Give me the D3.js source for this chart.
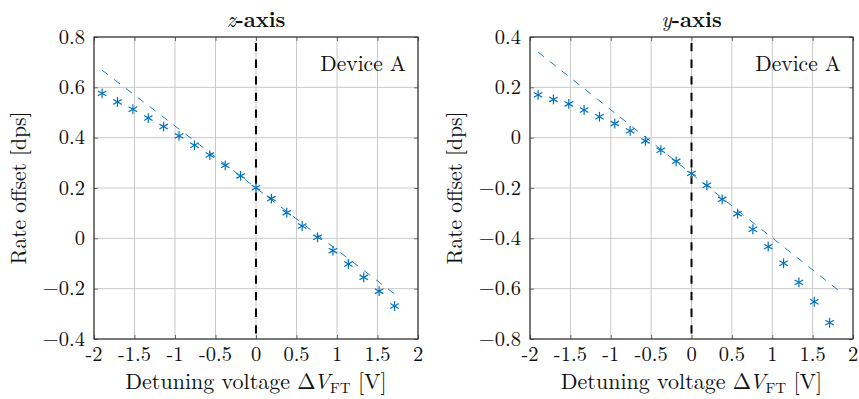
<!DOCTYPE html>
<html>
<head>
<meta charset="utf-8">
<script src="https://cdn.jsdelivr.net/npm/d3@7"></script>
<style>
  html, body { margin: 0; padding: 0; background: #fff; }
  svg { display: block; }
</style>
</head>
<body>
<svg id="chart" width="859" height="399"></svg>
<script>
// Detuning voltage samples shared by both panels [V]
const detuning = [-1.90, -1.71, -1.52, -1.33, -1.14, -0.95, -0.76, -0.57, -0.38, -0.19,
                  0.00, 0.19, 0.38, 0.57, 0.76, 0.95, 1.14, 1.33, 1.52, 1.71];

// Measured rate offsets [dps]
const zOffset = [0.576, 0.542, 0.513, 0.478, 0.444, 0.407, 0.370, 0.331, 0.290, 0.248,
                 0.201, 0.158, 0.102, 0.049, 0.004, -0.049, -0.102, -0.155, -0.210, -0.269];
const yOffset = [0.170, 0.152, 0.134, 0.110, 0.083, 0.056, 0.027, -0.013, -0.050, -0.094,
                 -0.142, -0.189, -0.245, -0.302, -0.364, -0.433, -0.499, -0.575, -0.652, -0.735];

// Linear fits (end points) [V, dps]
const zFitX = [-1.90, 1.71];
const zFitY = [0.668, -0.221];
const yFitX = [-1.90, 1.88];
const yFitY = [0.340, -0.622];

// Axis ticks
const xTicks = [-2, -1.5, -1, -0.5, 0, 0.5, 1, 1.5, 2];
const zTicks = [-0.4, -0.2, 0, 0.2, 0.4, 0.6, 0.8];
const yTicks = [-0.8, -0.6, -0.4, -0.2, 0, 0.2, 0.4];

const blue = "#0072BD";
const FONT = "'Latin Modern Roman', serif";
const FS = 21.5;      // labels
const TS = 20.5;      // tick labels
const svg = d3.select("#chart");

function fmtX(v) { return String(v); }                       // hyphen style
function fmtY(v) { return v < 0 ? "\u2212" + String(-v) : String(v); }

// text helper with the document font applied directly
function txt(sel, size) {
  return sel.append("text").style("font-family", FONT).style("font-size", size + "px").attr("fill", "#111");
}

function panel(opt) {
  const x = d3.scaleLinear().domain([-2, 2]).range([opt.left, opt.right]);
  const y = d3.scaleLinear().domain(opt.yDomain).range([339, 37]);
  const g = svg.append("g");

  // grid
  g.append("g").selectAll("line").data(xTicks).join("line")
    .attr("x1", d => x(d)).attr("x2", d => x(d)).attr("y1", 37).attr("y2", 339)
    .attr("stroke", "#c9c9c9").attr("stroke-width", 1);
  g.append("g").selectAll("line").data(opt.yTicks).join("line")
    .attr("x1", opt.left).attr("x2", opt.right).attr("y1", d => y(d)).attr("y2", d => y(d))
    .attr("stroke", "#c9c9c9").attr("stroke-width", 1);

  // axes with inward ticks
  const xb = d3.axisBottom(x).tickValues(xTicks).tickSize(-4).tickFormat("");
  const xt = d3.axisTop(x).tickValues(xTicks).tickSize(-4).tickFormat("");
  const yl = d3.axisLeft(y).tickValues(opt.yTicks).tickSize(-4).tickFormat("");
  const yr = d3.axisRight(y).tickValues(opt.yTicks).tickSize(-4).tickFormat("");
  [[xb, `translate(0,339)`], [xt, `translate(0,37)`], [yl, `translate(${opt.left},0)`], [yr, `translate(${opt.right},0)`]]
    .forEach(([ax, tr]) => {
      const a = g.append("g").attr("transform", tr).call(ax);
      a.select(".domain").remove();
      a.selectAll(".tick line").attr("stroke", "#6e6e6e").attr("stroke-width", 1);
    });

  // tick labels
  const xl0 = g.append("g");
  xTicks.forEach(d => {
    txt(xl0, TS).attr("x", x(d)).attr("y", 361).attr("text-anchor", "middle").text(fmtX(d));
  });
  const yl0 = g.append("g");
  opt.yTicks.forEach(d => {
    txt(yl0, TS).attr("x", opt.left - 9).attr("y", y(d) + 6.8).attr("text-anchor", "end").text(fmtY(d));
  });

  // vertical dashed line at zero detuning
  g.append("line").attr("x1", x(0)).attr("x2", x(0)).attr("y1", 37).attr("y2", 339)
    .attr("stroke", "#000").attr("stroke-width", 2).attr("stroke-dasharray", "8.3,8.3")
    .attr("stroke-dashoffset", -6);

  // fit line
  const fit = opt.fitX.map((v, i) => [v, opt.fitY[i]]);
  g.append("path").datum(fit)
    .attr("d", d3.line().x(d => x(d[0])).y(d => y(d[1])))
    .attr("fill", "none").attr("stroke", blue).attr("stroke-width", 0.9)
    .attr("stroke-dasharray", "7.5,7.5");

  // asterisk markers
  const r = 4.9;
  const arms = [90, 30, 150].map(a => [Math.cos(a * Math.PI / 180) * r, Math.sin(a * Math.PI / 180) * r]);
  const pts = detuning.map((v, i) => [v, opt.values[i]]);
  const m = g.append("g").selectAll("g").data(pts).join("g")
    .attr("transform", d => `translate(${x(d[0])},${y(d[1])})`);
  arms.forEach(([dx, dy]) => {
    m.append("line").attr("x1", -dx).attr("y1", -dy).attr("x2", dx).attr("y2", dy)
      .attr("stroke", blue).attr("stroke-width", 1.2);
  });

  // frame
  g.append("rect").attr("x", opt.left).attr("y", 37)
    .attr("width", opt.right - opt.left).attr("height", 302)
    .attr("fill", "none").attr("stroke", "#222").attr("stroke-width", 1.1);

  // annotation
  txt(g, FS).attr("x", opt.right - 12).attr("y", 71).attr("text-anchor", "end").text("Device A");

  // title
  const cx = (opt.left + opt.right) / 2;
  const t = txt(g, FS).attr("x", cx).attr("y", 27).attr("text-anchor", "middle");
  t.append("tspan").style("font-style", "italic").text(opt.axisName);
  t.append("tspan").style("font-weight", "bold").text("-axis");

  // x label
  const xl = txt(g, 22).attr("x", cx).attr("y", 389).attr("text-anchor", "middle");
  xl.append("tspan").text("Detuning voltage \u0394");
  xl.append("tspan").style("font-style", "italic").attr("dx", -2).text("V");
  xl.append("tspan").style("font-size", "15px").attr("dy", 3.5).text("FT");
  xl.append("tspan").attr("dy", -3.5).text(" [V]");

  // y label
  txt(g, FS).attr("transform", `translate(${opt.left - 68},188) rotate(-90)`)
    .attr("text-anchor", "middle").text("Rate offset [dps]");
}

panel({ left: 94, right: 418, yDomain: [-0.4, 0.8], yTicks: zTicks, values: zOffset,
        fitX: zFitX, fitY: zFitY, axisName: "z" });
panel({ left: 530, right: 853, yDomain: [-0.8, 0.4], yTicks: yTicks, values: yOffset,
        fitX: yFitX, fitY: yFitY, axisName: "y" });
</script>
</body>
</html>
